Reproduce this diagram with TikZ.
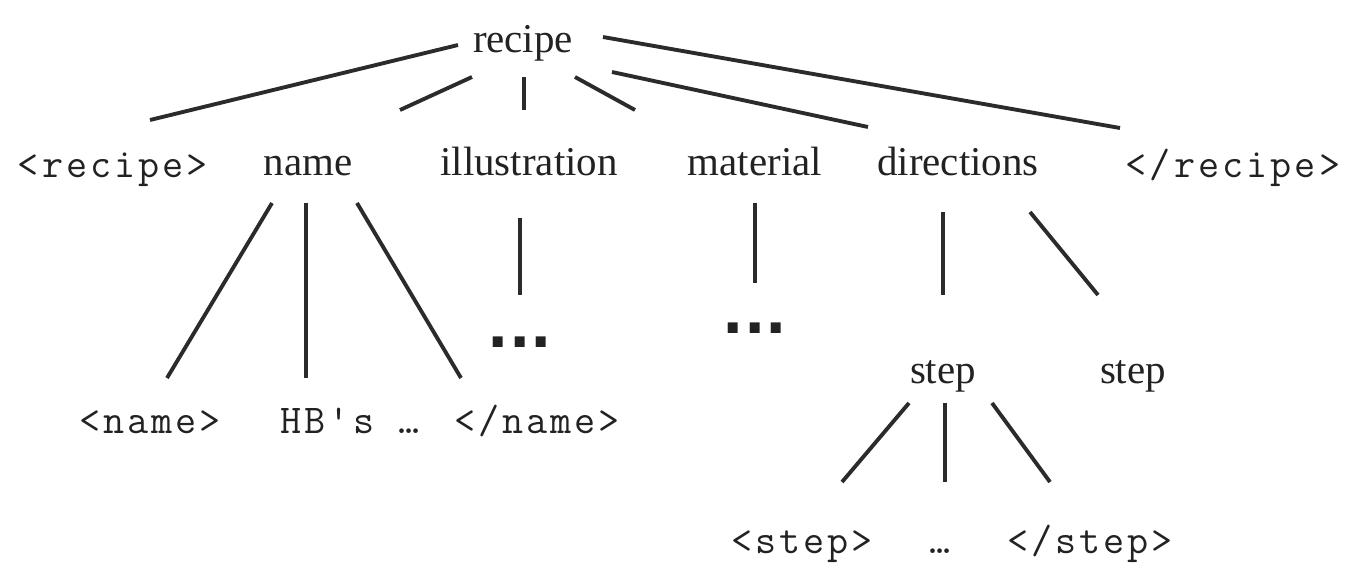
\documentclass[tikz,border=0pt]{standalone}
\usepackage{fontspec}
\setmainfont{Liberation Serif}
\setmonofont{Latin Modern Mono}[LetterSpace=7.5]
\newfontfamily\dotsfont{DejaVu Sans Bold}
\definecolor{linegray}{HTML}{2B2B2B}
\definecolor{inkgray}{HTML}{222222}

\tikzset{
  elem/.style={font=\fontsize{23.3}{28}\selectfont, text=inkgray, anchor=base, inner sep=0pt},
  tag/.style={font=\fontsize{23.3}{28}\selectfont\ttfamily, text=inkgray, anchor=base, inner sep=0pt},
  more/.style={font=\fontsize{32}{32}\dotsfont, text=inkgray, anchor=base, inner sep=0pt},
  link/.style={draw=linegray, line width=2.2pt}
}

\begin{document}
\begin{tikzpicture}[x=0.02cm, y=-0.02cm]
	\useasboundingbox (0,0) rectangle (1362,568);
	% root and first level
	\node[elem] (recipe) at (523,52) {recipe};
	\node[tag]  (lrecipe) at (113,177) {<recipe>};
	\node[elem] (name) at (308,175) {name};
	\node[elem] (illustration) at (529,175) {illustration};
	\node[elem] (material) at (755,175) {material};
	\node[elem] (directions) at (958,175) {directions};
	\node[tag]  (rrecipe) at (1233,177) {</recipe>};
	% lower levels
	\node[more] (illdots) at (520,347) {...};
	\node[more] (matdots) at (755,333) {...};
	\node[elem] (stepa) at (943,383) {step};
	\node[elem] (stepb) at (1133,383) {step};
	\node[tag]  (lname) at (150,433) {<name>};
	\node[tag]  (hbs) at (350,433) {HB's …};
	\node[tag]  (rname) at (537,433) {</name>};
	\node[tag]  (lstep) at (802,553) {<step>};
	\node[tag]  (stepdots) at (940,553) {…};
	\node[tag]  (rstep) at (1090,553) {</step>};
	% links
	\draw[link] ([shift={(-65,-7)}]recipe.base) -- ([shift={(37,-57)}]lrecipe.base);
	\draw[link] ([shift={(-51,25)}]recipe.base) -- ([shift={(92,-65)}]name.base);
	\draw[link] ([shift={(1,25)}]recipe.base) -- ([shift={(-5,-65)}]illustration.base);
	\draw[link] ([shift={(52,25)}]recipe.base) -- ([shift={(-120,-65)}]material.base);
	\draw[link] ([shift={(89,20)}]recipe.base) -- ([shift={(-90,-48)}]directions.base);
	\draw[link] ([shift={(80,-15)}]recipe.base) -- ([shift={(-113,-49)}]rrecipe.base);
	\draw[link] ([shift={(-36,28)}]name.base) -- ([shift={(17,-55)}]lname.base);
	\draw[link] ([shift={(-2,28)}]name.base) -- ([shift={(-44,-55)}]hbs.base);
	\draw[link] ([shift={(49,28)}]name.base) -- ([shift={(-76,-55)}]rname.base);
	\draw[link] ([shift={(-9,43)}]illustration.base) -- ([shift={(0,-52)}]illdots.base);
	\draw[link] ([shift={(0,28)}]material.base) -- ([shift={(0,-50)}]matdots.base);
	\draw[link] ([shift={(-15,37)}]directions.base) -- ([shift={(0,-88)}]stepa.base);
	\draw[link] ([shift={(72,37)}]directions.base) -- ([shift={(-35,-88)}]stepb.base);
	\draw[link] ([shift={(-34,20)}]stepa.base) -- ([shift={(40,-71)}]lstep.base);
	\draw[link] ([shift={(2,20)}]stepa.base) -- ([shift={(5,-71)}]stepdots.base);
	\draw[link] ([shift={(49,20)}]stepa.base) -- ([shift={(-40,-71)}]rstep.base);
\end{tikzpicture}
\end{document}
